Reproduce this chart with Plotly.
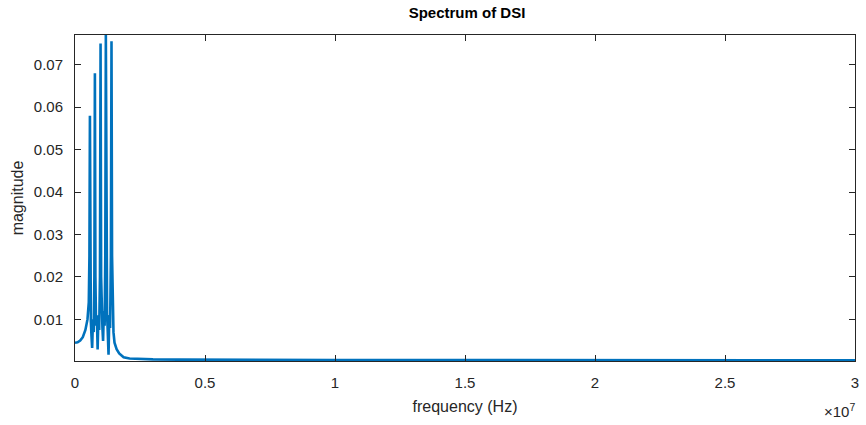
import plotly.graph_objects as go

# frequency points (MHz) and magnitudes
freq_mhz = [0.00, 0.10, 0.20, 0.30, 0.40, 0.48, 0.53, 0.555, 0.574, 0.59, 0.61, 0.635, 0.66, 0.69,
            0.72, 0.745, 0.765, 0.785, 0.81, 0.84, 0.87, 0.90, 0.93, 0.96, 0.983, 1.005, 1.03,
            1.055, 1.08, 1.11, 1.14, 1.165, 1.186, 1.21, 1.235, 1.26, 1.29, 1.32, 1.35, 1.38,
            1.404, 1.425, 1.45, 1.48, 1.52, 1.60, 1.70, 1.87, 2.1, 2.5, 3.0, 4.0, 5.0, 7.0,
            10.0, 15.0, 20.0, 25.0, 30.0]
magnitude = [0.0045, 0.0046, 0.0050, 0.0058, 0.0075, 0.0100, 0.0140, 0.0250, 0.0580, 0.0200,
             0.0095, 0.0060, 0.0033, 0.0100, 0.0070, 0.0200, 0.0680, 0.0200, 0.0085, 0.0110,
             0.0029, 0.0105, 0.0075, 0.0200, 0.0750, 0.0200, 0.0110, 0.0080, 0.0049, 0.0120,
             0.0085, 0.0250, 0.0770, 0.0250, 0.0110, 0.0070, 0.0017, 0.0110, 0.0080, 0.0250,
             0.0755, 0.0250, 0.0120, 0.0070, 0.0045, 0.0030, 0.0020, 0.0011, 0.0008, 0.00065,
             0.00058, 0.00052, 0.00048, 0.00045, 0.00042, 0.00040, 0.00039, 0.00038, 0.00038]

x_tick_vals = [0, 0.5, 1, 1.5, 2, 2.5, 3]
x_tick_text = ["0", "0.5", "1", "1.5", "2", "2.5", "3"]
y_tick_vals = [0.01, 0.02, 0.03, 0.04, 0.05, 0.06, 0.07]
y_tick_text = ["0.01", "0.02", "0.03", "0.04", "0.05", "0.06", "0.07"]

freq_hz = [f * 1e6 for f in freq_mhz]

fig = go.Figure()
fig.add_trace(go.Scatter(x=freq_hz, y=magnitude, mode="lines",
                         line=dict(color="#0072BD", width=2.6), showlegend=False))

axis_col = "#262626"
font_fam = "Liberation Sans, Arial, sans-serif"

fig.update_layout(
    width=866, height=425,
    margin=dict(l=75, r=7, t=35, b=64),
    paper_bgcolor="white", plot_bgcolor="white",
    font=dict(family=font_fam, size=15, color=axis_col),
    title=dict(text="<b>Spectrum of DSI</b>", x=467 / 866, xanchor="center",
               y=1 - 13 / 425, yanchor="middle", font=dict(size=15, color="black")),
    xaxis=dict(range=[0, 3e7], tickvals=[v * 1e7 for v in x_tick_vals], ticktext=x_tick_text,
               ticks="inside", ticklen=6, tickcolor=axis_col, showline=True, linecolor=axis_col,
               linewidth=1, mirror="ticks", showgrid=False, zeroline=False,
               ticklabelstandoff=8,
               title=dict(text="frequency (Hz)", standoff=10, font=dict(size=16)),
               tickfont=dict(size=15)),
    yaxis=dict(range=[0.0002, 0.0770], tickvals=y_tick_vals, ticktext=y_tick_text,
               ticks="inside", ticklen=6, tickcolor=axis_col, showline=True, linecolor=axis_col,
               linewidth=1, mirror="ticks", showgrid=False, zeroline=False,
               ticklabelstandoff=8,
               title=dict(text="magnitude", standoff=6, font=dict(size=16)),
               tickfont=dict(size=15)),
)

fig.add_annotation(text="×10<sup>7</sup>", xref="paper", yref="paper", x=1.0, y=0,
                   xanchor="right", yanchor="top", yshift=-38, xshift=2, showarrow=False,
                   font=dict(size=15, color=axis_col, family=font_fam))

fig.write_html("out.html")
